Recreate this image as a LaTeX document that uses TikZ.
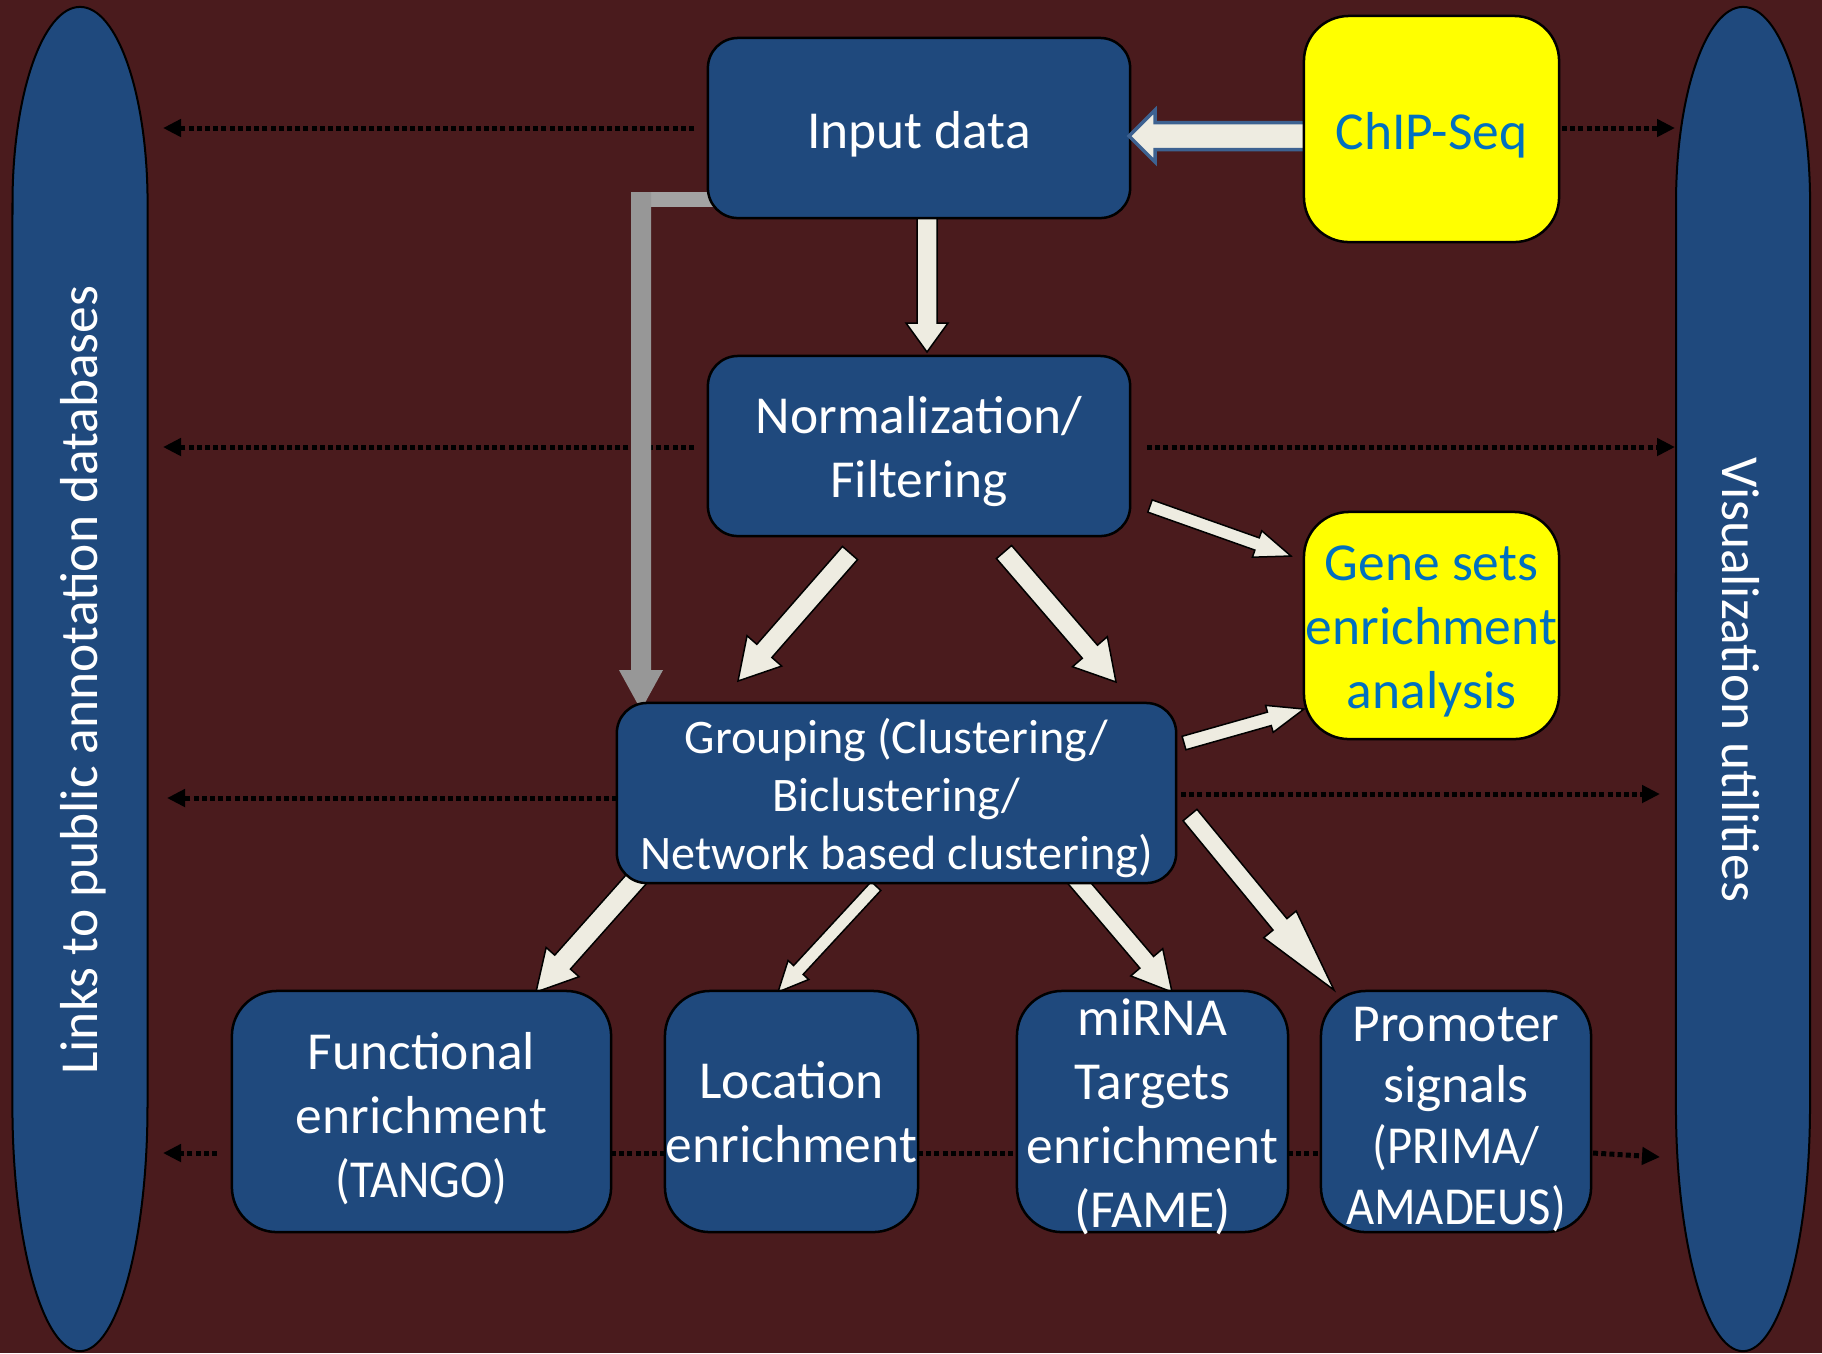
\documentclass[tikz,border=0pt]{standalone}
\usepackage{graphicx}
\usepackage{fontspec}
\setmainfont{Carlito}
\usetikzlibrary{calc,arrows.meta}

\definecolor{bgred}{HTML}{4A1B1D}
\definecolor{boxblue}{HTML}{1F497D}
\definecolor{arrowfill}{HTML}{EEECE1}
\definecolor{chipedge}{HTML}{3D6291}
\definecolor{hiyellow}{HTML}{FFFF00}
\definecolor{hiblue}{HTML}{0070C0}
\definecolor{grayarrow}{HTML}{A3A3A3}
\definecolor{grayarrowdark}{HTML}{979797}

\newcommand\bigtext{\fontsize{15.2pt}{18.2pt}\selectfont}
\newcommand\midtext{\fontsize{13.7pt}{16.6pt}\selectfont}
\newcommand\narrow[1]{\scalebox{0.91}[1]{#1}}

% block arrow: [style] {tail}{tip}{shaft half width}{head half width}{head length}, sizes in px
\newcommand\fatarrow[6][]{%
  \pgfmathsetmacro\fashaft{#4/100}%
  \pgfmathsetmacro\fahead{#5/100}%
  \pgfmathsetmacro\falen{#6/100}%
  \coordinate (fa-base) at ($(#3)!\falen cm!(#2)$);%
  \draw[blockarrow,#1]
    ($(#2)!\fashaft cm!90:(#3)$) -- ($(fa-base)!\fashaft cm!90:(#3)$)
    -- ($(fa-base)!\fahead cm!90:(#3)$) -- (#3)
    -- ($(fa-base)!\fahead cm!-90:(#3)$) -- ($(fa-base)!\fashaft cm!-90:(#3)$)
    -- ($(#2)!\fashaft cm!-90:(#3)$) -- cycle;%
}

\begin{document}
\begin{tikzpicture}[
  x=0.01cm, y=-0.01cm,
  pillar/.style={fill=boxblue, draw=black, line width=0.02cm},
  sidetext/.style={text=white, font=\bigtext, inner sep=0pt},
  box/.style={draw=black, line width=0.025cm, fill=boxblue, inner sep=0pt, rounded corners=0.3cm},
  ybox/.style={draw=black, line width=0.025cm, fill=hiyellow, inner sep=0pt, rounded corners=0.45cm},
  boxtext/.style={text=white, align=center, inner sep=0pt, font=\bigtext},
  ytext/.style={text=hiblue, align=center, inner sep=0pt, font=\bigtext},
  dotarrow/.style={draw=black, line width=0.05cm, dash pattern=on 0.05cm off 0.032cm,
    -{Triangle[length=0.18cm,width=0.17cm]}},
  dotline/.style={draw=black, line width=0.05cm, dash pattern=on 0.05cm off 0.032cm},
  blockarrow/.style={fill=arrowfill, draw=black, line width=0.015cm, line join=miter},
  chiparrow/.style={fill=arrowfill, draw=chipedge, line width=0.035cm, line join=miter},
]
\useasboundingbox (0,0) rectangle (1822,1353);
\fill[bgred] (0,0) rectangle (1822,1353);

% side pillars
\draw[pillar] (12.5,203) arc[start angle=180, end angle=0, x radius=0.675cm, y radius=1.96cm]
  -- (147.5,1106) arc[start angle=0, end angle=-180, x radius=0.675cm, y radius=2.45cm] -- cycle;
\draw[pillar] (1676,203) arc[start angle=180, end angle=0, x radius=0.67cm, y radius=1.96cm]
  -- (1810,1106) arc[start angle=0, end angle=-180, x radius=0.67cm, y radius=2.45cm] -- cycle;
\node[sidetext, rotate=90] (links) at (83,680) {Links to public annotation databases};
\node[sidetext, rotate=-90] (vis) at (1741,680) {Visualization utilities};

% box positions
\coordinate (pInput) at (919,128);
\coordinate (pChip) at (1431.5,129);
\coordinate (pNorm) at (919,446);
\coordinate (pGene) at (1431.5,625.5);
\coordinate (pGroup) at (896.5,793);
\coordinate (pFunc) at (421.5,1111.5);
\coordinate (pLoc) at (791.5,1111.5);
\coordinate (pMirna) at (1152.5,1111.5);
\coordinate (pProm) at (1456,1111.5);

% ends of the dotted links
\coordinate (lnk1) at (163,128);
\coordinate (lnk2) at (163,447);
\coordinate (lnk3) at (167,798);
\coordinate (lnk4) at (163,1153);
\coordinate (vis1) at (1675,128);
\coordinate (vis2) at (1675,447);
\coordinate (vis3) at (1660,794);
\coordinate (vis4) at (1660,1157);

% dotted links towards the pillars
\draw[dotarrow] (694,128) -- (lnk1);
\draw[dotarrow] (694,447) -- (lnk2);
\draw[dotarrow] (617,798) -- (lnk3);
\draw[dotarrow] (217,1153) -- (lnk4);
\draw[dotarrow] (1562,128) -- (vis1);
\draw[dotarrow] (1147,447) -- (vis2);
\draw[dotarrow] (1181,794) -- (vis3);
\draw[dotarrow] (1593,1153) -- (vis4);
\draw[dotline] (611,1153) -- (665,1153);
\draw[dotline] (918,1153) -- (1017,1153);
\draw[dotline] (1288,1153) -- (1321,1153);

% grey bypass arrow from the input data to the grouping step
\fill[grayarrow] (715,192) -- (631,192) -- (631,207) -- (715,207) -- cycle;
\fill[grayarrowdark] (631,192) -- (651,192) -- (651,670) -- (663,670) -- (641,710)
  -- (619,670) -- (631,670) -- cycle;

% block arrows between the steps
\coordinate (a1s) at (927,214);   \coordinate (a1e) at (927,352);
\coordinate (a2s) at (850,553);   \coordinate (a2e) at (738,681);
\coordinate (a3s) at (1004,552);  \coordinate (a3e) at (1116,682);
\coordinate (a4s) at (1150,506);  \coordinate (a4e) at (1291,556);
\coordinate (a5s) at (1184,743);  \coordinate (a5e) at (1304,709);
\coordinate (a6s) at (640,875);   \coordinate (a6e) at (536,992);
\coordinate (a7s) at (876,886);   \coordinate (a7e) at (778,992);
\coordinate (a8s) at (1075,878);  \coordinate (a8e) at (1172,992);
\coordinate (a9s) at (1190,815);  \coordinate (a9e) at (1334,990);

\fatarrow{a1s}{a1e}{10}{21}{29}
\fatarrow{a2s}{a2e}{10}{23}{40}
\fatarrow{a3s}{a3e}{10}{23}{40}
\fatarrow{a4s}{a4e}{6.5}{14}{36}
\fatarrow{a5s}{a5e}{7}{14}{36}
\fatarrow{a6s}{a6e}{10.5}{22}{40}
\fatarrow{a7s}{a7e}{6.5}{14}{30}
\fatarrow{a8s}{a8e}{9}{21}{39}
\fatarrow{a9s}{a9e}{9}{21}{85}

% processing steps
\node[box, minimum width=4.22cm, minimum height=1.8cm] (input) at (pInput) {};
\node[box, minimum width=4.22cm, minimum height=1.8cm] (norm) at (pNorm) {};
\node[box, minimum width=5.59cm, minimum height=1.8cm] (group) at (pGroup) {};
\node[box, rounded corners=0.45cm, minimum width=3.79cm, minimum height=2.41cm] (func) at (pFunc) {};
\node[box, rounded corners=0.45cm, minimum width=2.53cm, minimum height=2.41cm] (loc) at (pLoc) {};
\node[box, rounded corners=0.45cm, minimum width=2.71cm, minimum height=2.41cm] (mirna) at (pMirna) {};
\node[box, rounded corners=0.45cm, minimum width=2.70cm, minimum height=2.41cm] (prom) at (pProm) {};

\node[boxtext] (inputt) at ($(input.center)+(0,6)$) {Input data};
\node[boxtext] (normt) at ($(norm.center)+(0,6)$) {Normalization/\\Filtering};
\node[boxtext, font=\midtext] (groupt) at ($(group.center)+(0,5)$)
  {Grouping (Clustering/\\Biclustering/\\Network based clustering)};
\node[boxtext] (funct) at ($(func.center)+(0,7)$) {Functional\\enrichment\\\narrow{(TANGO)}};
\node[boxtext] (loct) at ($(loc.center)+(0,1)$) {Location\\enrichment};
\node[boxtext] (mirnat) at ($(mirna.center)+(0,5)$) {miRNA\\Targets\\enrichment\\(FAME)};
\node[boxtext, font=\fontsize{15.2pt}{17.3pt}\selectfont] (promt) at ($(prom.center)+(0,8)$)
  {Promoter\\signals\\\narrow{(PRIMA/}\\\narrow{AMADEUS)}};

% ChIP-Seq input and gene set analysis
\node[ybox, minimum width=2.55cm, minimum height=2.27cm] (gene) at (pGene) {};
\node[ytext] (genet) at ($(gene.center)+(0,6)$) {Gene sets\\enrichment\\analysis};
\coordinate (c1s) at (1310,136);
\coordinate (c1e) at (1129,136);
\fatarrow[chiparrow]{c1s}{c1e}{13.5}{26}{26}
\node[ybox, minimum width=2.55cm, minimum height=2.26cm] (chip) at (pChip) {};
\node[ytext] (chipt) at ($(chip.center)+(0,6)$) {ChIP-Seq};
\end{tikzpicture}
\end{document}
